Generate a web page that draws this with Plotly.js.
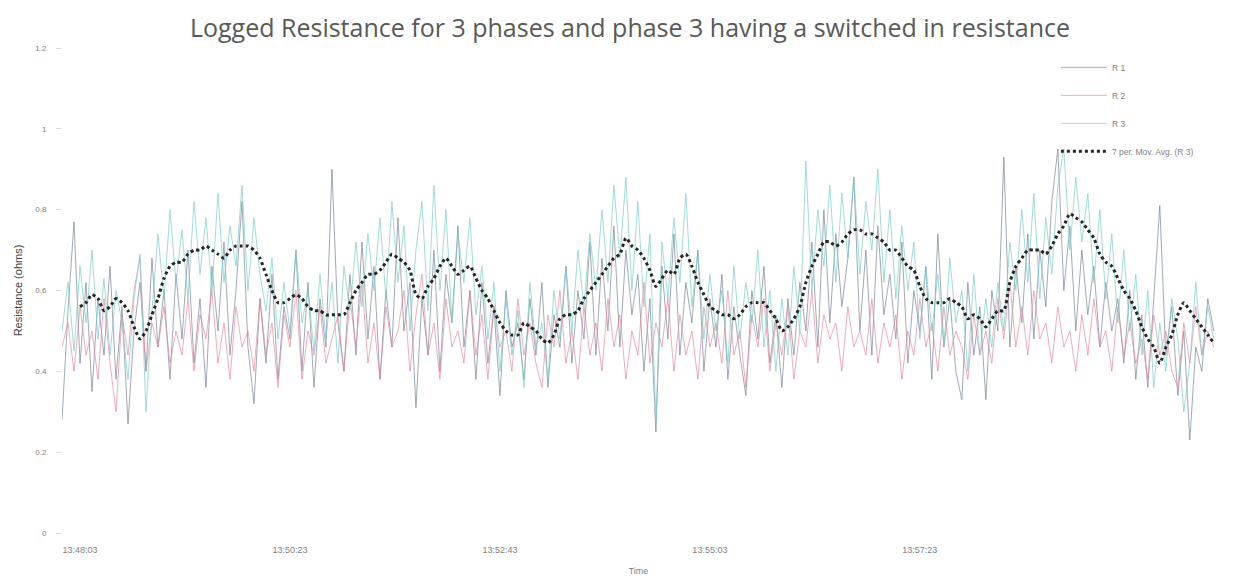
<!DOCTYPE html>
<html>
<head>
<meta charset="utf-8">
<script src="https://cdn.plot.ly/plotly-3.0.1.min.js"></script>
<style>
  html, body { margin: 0; padding: 0; background: #ffffff; }
  #chart { width: 1245px; height: 582px; }
</style>
</head>
<body>
<div id="chart"></div>
<script>
// Phase resistance readings (ohms), one sample every 4 seconds from 13:47:51
const startTime = [13, 47, 51];
const stepSeconds = 4;

const r1 = [
  0.28,0.55,0.77,0.42,0.62,0.35,0.58,0.44,0.66,0.38,
  0.56,0.27,0.50,0.62,0.40,0.68,0.46,0.60,0.38,0.64,
  0.48,0.70,0.42,0.58,0.36,0.66,0.50,0.72,0.44,0.60,
  0.82,0.46,0.32,0.58,0.42,0.64,0.38,0.56,0.48,0.70,
  0.40,0.62,0.36,0.58,0.46,0.90,0.52,0.40,0.64,0.44,
  0.72,0.48,0.66,0.38,0.60,0.46,0.78,0.50,0.62,0.31,
  0.58,0.44,0.70,0.40,0.64,0.52,0.76,0.46,0.60,0.38,
  0.62,0.42,0.56,0.34,0.60,0.46,0.52,0.38,0.58,0.44,
  0.62,0.36,0.54,0.46,0.66,0.42,0.60,0.48,0.72,0.44,
  0.68,0.50,0.76,0.46,0.70,0.54,0.64,0.40,0.58,0.25,
  0.66,0.48,0.74,0.44,0.62,0.52,0.70,0.40,0.58,0.46,
  0.64,0.38,0.56,0.44,0.34,0.60,0.48,0.66,0.42,0.54,
  0.36,0.58,0.44,0.62,0.50,0.72,0.46,0.80,0.52,0.74,
  0.56,0.68,0.88,0.50,0.70,0.44,0.76,0.54,0.64,0.48,
  0.72,0.42,0.60,0.50,0.66,0.38,0.74,0.46,0.58,0.40,
  0.33,0.62,0.44,0.56,0.33,0.60,0.50,0.93,0.46,0.66,
  0.52,0.74,0.48,0.70,0.56,0.82,0.95,0.60,0.76,0.50,
  0.70,0.54,0.66,0.46,0.62,0.50,0.58,0.42,0.60,0.38,
  0.54,0.36,0.58,0.81,0.44,0.56,0.34,0.50,0.23,0.46,
  0.40,0.58,0.50
];

const r2 = [
  0.46,0.52,0.40,0.56,0.44,0.50,0.38,0.58,0.42,0.30,
  0.54,0.44,0.60,0.68,0.40,0.52,0.46,0.56,0.42,0.50,
  0.44,0.58,0.40,0.54,0.48,0.60,0.42,0.52,0.38,0.56,
  0.46,0.50,0.40,0.58,0.44,0.52,0.36,0.54,0.46,0.60,
  0.38,0.50,0.44,0.56,0.42,0.48,0.54,0.40,0.58,0.46,
  0.62,0.42,0.52,0.38,0.56,0.46,0.50,0.60,0.40,0.54,
  0.64,0.44,0.52,0.38,0.58,0.46,0.50,0.42,0.60,0.44,
  0.54,0.38,0.56,0.46,0.50,0.40,0.58,0.44,0.52,0.42,
  0.36,0.54,0.46,0.60,0.42,0.50,0.38,0.56,0.44,0.52,
  0.40,0.58,0.46,0.54,0.38,0.50,0.44,0.62,0.42,0.52,
  0.46,0.58,0.40,0.54,0.44,0.50,0.38,0.56,0.46,0.52,
  0.42,0.60,0.44,0.50,0.36,0.54,0.46,0.58,0.40,0.52,
  0.44,0.56,0.38,0.50,0.46,0.60,0.42,0.54,0.48,0.52,
  0.40,0.56,0.46,0.50,0.44,0.58,0.42,0.52,0.46,0.54,
  0.38,0.50,0.44,0.58,0.46,0.52,0.40,0.56,0.44,0.50,
  0.46,0.38,0.54,0.44,0.50,0.42,0.58,0.48,0.62,0.46,
  0.56,0.44,0.60,0.48,0.52,0.42,0.56,0.46,0.50,0.40,
  0.54,0.44,0.58,0.46,0.50,0.40,0.56,0.44,0.52,0.42,
  0.48,0.38,0.54,0.44,0.50,0.40,0.36,0.52,0.42,0.56,
  0.44,0.50,0.46
];

const r3 = [
  0.50,0.62,0.45,0.66,0.52,0.70,0.48,0.63,0.44,0.60,
  0.52,0.38,0.58,0.69,0.30,0.55,0.74,0.58,0.80,0.62,
  0.75,0.58,0.82,0.64,0.78,0.60,0.84,0.62,0.76,0.66,
  0.86,0.60,0.78,0.64,0.55,0.68,0.48,0.62,0.50,0.70,
  0.52,0.60,0.45,0.64,0.48,0.62,0.42,0.66,0.55,0.72,
  0.56,0.74,0.60,0.78,0.58,0.82,0.62,0.76,0.50,0.70,
  0.82,0.55,0.86,0.60,0.80,0.52,0.74,0.62,0.78,0.54,
  0.66,0.48,0.62,0.40,0.58,0.44,0.55,0.36,0.62,0.46,
  0.52,0.38,0.60,0.48,0.66,0.50,0.70,0.56,0.74,0.60,
  0.80,0.62,0.86,0.68,0.88,0.60,0.82,0.56,0.74,0.27,
  0.72,0.58,0.78,0.62,0.84,0.56,0.70,0.48,0.64,0.50,
  0.60,0.42,0.66,0.48,0.62,0.52,0.70,0.46,0.60,0.40,
  0.58,0.44,0.66,0.50,0.92,0.60,0.80,0.66,0.86,0.62,
  0.84,0.68,0.88,0.64,0.82,0.70,0.90,0.62,0.80,0.58,
  0.76,0.60,0.72,0.48,0.66,0.50,0.64,0.46,0.68,0.52,
  0.60,0.40,0.64,0.44,0.58,0.46,0.62,0.50,0.72,0.60,
  0.80,0.62,0.84,0.58,0.78,0.64,0.86,0.95,0.70,0.88,
  0.72,0.84,0.62,0.80,0.58,0.74,0.52,0.70,0.50,0.64,
  0.44,0.60,0.36,0.52,0.40,0.58,0.48,0.30,0.42,0.62,
  0.44,0.56,0.48
];

// Moving-average trendline of R 3, starting at the fourth sample
const maOffset = 3;
const r3MovAvg = [
  0.56,0.57,0.59,0.58,0.55,0.56,0.58,0.57,0.55,0.51,
  0.48,0.50,0.54,0.58,0.63,0.66,0.67,0.67,0.69,0.70,
  0.70,0.71,0.70,0.69,0.68,0.70,0.71,0.71,0.71,0.70,
  0.68,0.64,0.60,0.57,0.57,0.58,0.59,0.58,0.56,0.55,
  0.55,0.54,0.54,0.54,0.54,0.57,0.60,0.62,0.64,0.64,
  0.65,0.67,0.69,0.68,0.67,0.65,0.59,0.58,0.61,0.63,
  0.66,0.68,0.66,0.64,0.65,0.66,0.63,0.60,0.58,0.55,
  0.52,0.50,0.49,0.49,0.52,0.51,0.50,0.48,0.47,0.49,
  0.53,0.54,0.54,0.55,0.58,0.60,0.62,0.64,0.66,0.68,
  0.69,0.73,0.71,0.70,0.68,0.65,0.61,0.63,0.65,0.64,
  0.68,0.69,0.66,0.62,0.59,0.56,0.55,0.54,0.54,0.53,
  0.54,0.56,0.57,0.57,0.57,0.55,0.53,0.50,0.51,0.53,
  0.56,0.62,0.66,0.69,0.72,0.72,0.71,0.72,0.74,0.75,
  0.75,0.74,0.74,0.73,0.72,0.70,0.70,0.68,0.66,0.65,
  0.61,0.58,0.57,0.57,0.57,0.58,0.57,0.56,0.53,0.54,
  0.53,0.51,0.53,0.55,0.55,0.62,0.66,0.68,0.70,0.70,
  0.70,0.69,0.71,0.74,0.76,0.79,0.78,0.77,0.75,0.73,
  0.69,0.67,0.66,0.63,0.60,0.58,0.55,0.51,0.48,0.46,
  0.42,0.46,0.49,0.54,0.57,0.55,0.53,0.51,0.49,0.47
];

// Samples that carry a time label on the axis
const labelledSamples = [3, 38, 73, 108, 143];

const seriesNames = ['R 1', 'R 2', 'R 3', '7 per. Mov. Avg. (R 3)'];
const seriesColors = ['rgba(120,132,150,0.7)', 'rgba(232,128,155,0.65)', 'rgba(120,205,200,0.7)', '#262626'];

function pad(n) { return (n < 10 ? '0' : '') + n; }
function timeLabel(k) {
  let s = startTime[0] * 3600 + startTime[1] * 60 + startTime[2] + k * stepSeconds;
  const h = Math.floor(s / 3600); s -= h * 3600;
  const m = Math.floor(s / 60); s -= m * 60;
  return h + ':' + pad(m) + ':' + pad(s);
}
const times = r1.map((_, k) => timeLabel(k));

const raw = [r1, r2, r3];
const traces = raw.map((vals, k) => ({
  type: 'scatter', mode: 'lines',
  name: seriesNames[k], legendgroup: 'g' + k,
  x: times, y: vals,
  line: { color: seriesColors[k], width: 1 }
}));
traces.push({
  type: 'scatter', mode: 'lines',
  name: seriesNames[3], legendgroup: 'g3',
  x: times.slice(maOffset, maOffset + r3MovAvg.length), y: r3MovAvg,
  line: { color: seriesColors[3], width: 3, dash: 'dot', shape: 'spline', smoothing: 0.6 }
});

const baseFont = 'Liberation Sans, Arial, sans-serif';
const tickFont = { family: baseFont, size: 8, color: '#7f7f7f' };

const layout = {
  width: 1245, height: 582,
  margin: { l: 62, r: 30, t: 48, b: 49 },
  paper_bgcolor: '#ffffff', plot_bgcolor: '#ffffff',
  title: {
    text: 'Logged Resistance for 3 phases and phase 3 having a switched in resistance',
    font: { family: 'Open Sans, sans-serif', size: 25, color: '#595959' },
    x: 0.506, xanchor: 'center', y: 0.952, yanchor: 'middle'
  },
  xaxis: {
    type: 'category',
    range: [0, 192.2],
    tickmode: 'array',
    tickvals: labelledSamples.map(k => times[k]),
    ticktext: labelledSamples.map(k => times[k]),
    tickfont: { family: baseFont, size: 9, color: '#7f7f7f' },
    ticks: '', ticklabelstandoff: 10,
    showgrid: false, zeroline: false, showline: false,
    title: { text: 'Time', font: { family: baseFont, size: 9, color: '#7f7f7f' }, standoff: 13 }
  },
  yaxis: {
    range: [0, 1.2],
    tickvals: [0, 0.2, 0.4, 0.6, 0.8, 1, 1.2],
    ticktext: ['0', '0.2', '0.4', '0.6', '0.8', '1', '1.2'],
    tickfont: tickFont,
    ticks: 'outside', ticklen: 5, tickcolor: '#d9d9d9', ticklabelstandoff: 8,
    showgrid: false, zeroline: false, showline: false,
    title: { text: 'Resistance (ohms)', font: { family: baseFont, size: 11, color: '#404040' }, standoff: 10 }
  },
  legend: {
    x: 0.862, xanchor: 'left', y: 0.99, yanchor: 'top',
    bgcolor: 'rgba(255,255,255,0)',
    traceorder: 'grouped', tracegroupgap: 9,
    itemwidth: 46,
    font: { family: baseFont, size: 8.5, color: '#7f7f7f' }
  },
  showlegend: true
};

Plotly.newPlot('chart', traces, layout, { displayModeBar: false, staticPlot: true });
</script>
</body>
</html>
